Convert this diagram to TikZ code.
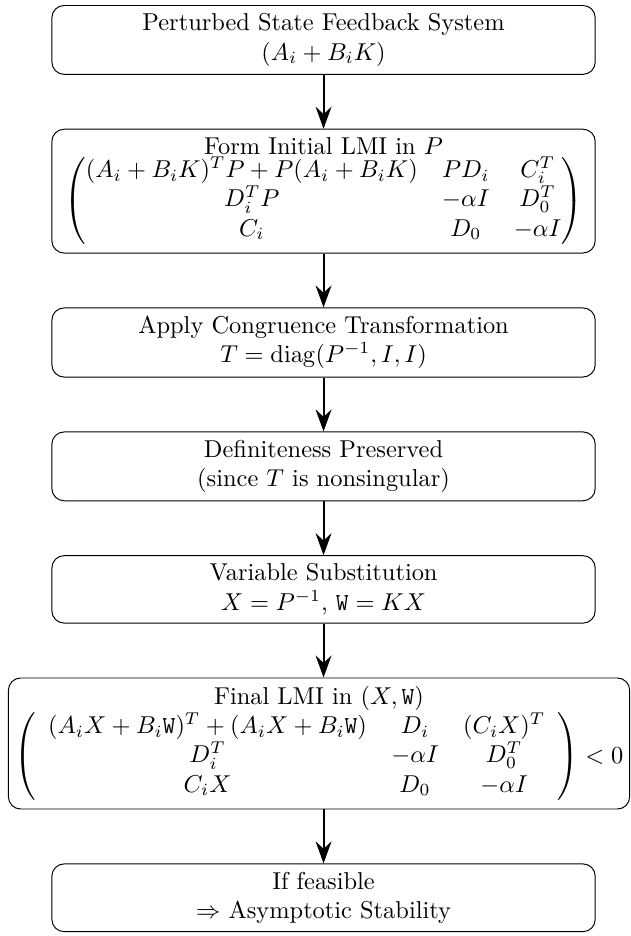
\documentclass[tikz,border=0pt]{standalone}
\usepackage{amsmath}
\usetikzlibrary{arrows.meta,positioning}
\tikzset{
  stepbox/.style={draw, rounded corners=5pt, line width=0.4pt, align=flush center,
    text width=216pt, inner sep=3.33pt},
  flowarrow/.style={thick, -{Stealth[length=9pt,width=6.5pt,inset=3pt]}}
}
\begin{document}
\begin{tikzpicture}
\useasboundingbox (0,0) rectangle (258.6pt,-383.6pt);
\node[stepbox, anchor=north] (n1) at (132.6pt,-2.05pt)
  {Perturbed State Feedback System\\ $(A_i + B_iK)$};
\node[stepbox, below=22.1pt of n1] (n2)
  {Form Initial LMI in $P$\\
   $\begin{pmatrix} (A_i+B_iK)^TP+P(A_i+B_iK) & PD_i & C_i^T\\
     D_i^TP & -\alpha I & D_0^T\\
     C_i & D_0 & -\alpha I\end{pmatrix}$};
\node[stepbox, below=22.1pt of n2] (n3)
  {Apply Congruence Transformation\\ $T = \operatorname{diag}(P^{-1}, I, I)$};
\node[stepbox, below=22.1pt of n3] (n4)
  {Definiteness Preserved\\ (since $T$ is nonsingular)};
\node[stepbox, below=22.1pt of n4] (n5)
  {Variable Substitution\\ $X = P^{-1}$, $\mathtt{W} = KX$};
\node[stepbox, below=22.1pt of n5, xshift=-1.85pt, text width=252pt, inner xsep=1.3pt] (n6)
  {Final LMI in $(X,\mathtt{W})$\\
   $\left(\begin{array}{ccc} (A_iX+B_i\mathtt{W})^T+(A_iX+B_i\mathtt{W}) & D_i & (C_iX)^T\\
     D_i^T & -\alpha I & D_0^T\\
     C_iX & D_0 & -\alpha I\end{array}\right) < 0$};
\node[stepbox, below=22.1pt of n6, xshift=1.85pt] (n7)
  {If feasible\\ $\Rightarrow$ Asymptotic Stability};
\draw[flowarrow] (n1) -- (n2);
\draw[flowarrow] (n2) -- (n3);
\draw[flowarrow] (n3) -- (n4);
\draw[flowarrow] (n4) -- (n5);
\draw[flowarrow] (n5.south) -- (n5.south |- n6.north);
\draw[flowarrow] (n7.north |- n6.south) -- (n7.north);
\end{tikzpicture}
\end{document}
